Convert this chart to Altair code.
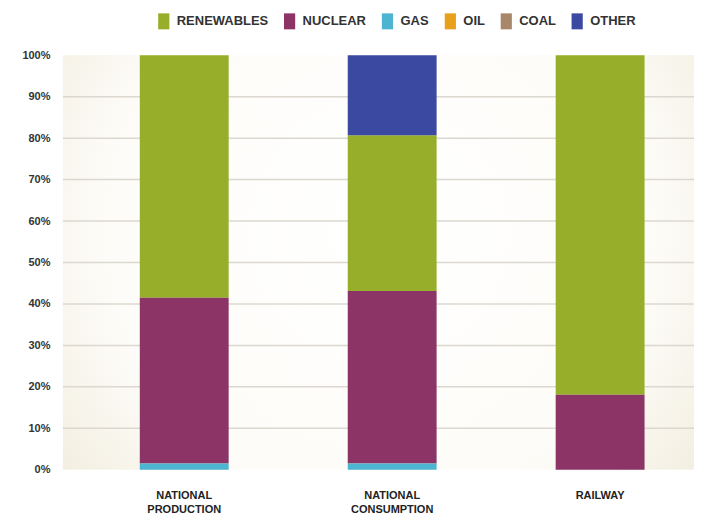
import altair as alt
import pandas as pd

categories = ["NATIONAL PRODUCTION", "NATIONAL CONSUMPTION", "RAILWAY"]
sources = ["RENEWABLES", "NUCLEAR", "GAS", "OIL", "COAL", "OTHER"]
colors = ["#97ae2b", "#8d3467", "#4db4d2", "#e9a11c", "#a8866a", "#3c49a0"]
stack_rank = [2, 1, 0, 3, 4, 5]  # bottom-to-top order

renewables = [58.5, 37.6, 81.9]
nuclear = [40.0, 41.6, 18.1]
gas = [1.5, 1.5, 0.0]
oil = [0.0, 0.0, 0.0]
coal = [0.0, 0.0, 0.0]
other = [0.0, 19.3, 0.0]

y_ticks = list(range(0, 101, 10))
grid_lines = list(range(10, 100, 10))

series = [renewables, nuclear, gas, oil, coal, other]
rows = []
for s, vals, rk in zip(sources, series, stack_rank):
    for c, v in zip(categories, vals):
        rows.append({"category": c, "source": s, "value": v, "rank": rk})
df = pd.DataFrame(rows)
grid_df = pd.DataFrame({"value": grid_lines})
one = pd.DataFrame({"a": [0]})

font = "Liberation Sans"
W, H = 632, 415

bg_grad = alt.RadialGradient(
    gradient="radial",
    x1=0.5, y1=0.45, r1=0.0,
    x2=0.5, y2=0.45, r2=0.72,
    stops=[
        alt.GradientStop(offset=0.0, color="#ffffff"),
        alt.GradientStop(offset=0.6, color="#fdfcf8"),
        alt.GradientStop(offset=1.0, color="#eee8d6"),
    ],
)

background = alt.Chart(one).mark_rect(fill=bg_grad).encode(
    x=alt.value(0), x2=alt.value(W), y=alt.value(0), y2=alt.value(H)
)

grid = alt.Chart(grid_df).mark_rule(color="#dcd8cf", strokeWidth=1.5).encode(
    y=alt.Y("value:Q")
)

bars = (
    alt.Chart(df)
    .mark_bar(size=89)
    .encode(
        x=alt.X(
            "category:N",
            sort=categories,
            scale=alt.Scale(paddingInner=0.5702, paddingOuter=0.3025, align=0.609),
            axis=alt.Axis(
                title=None,
                labelAngle=0,
                labelExpr="split(datum.label, ' ')",
                labelFont=font,
                labelFontWeight="bold",
                labelFontSize=11,
                labelLineHeight=14,
                labelColor="#222222",
                labelPadding=20,
                ticks=False,
                domain=False,
                grid=False,
            ),
        ),
        y=alt.Y(
            "value:Q",
            stack="zero",
            scale=alt.Scale(domain=[0, 100], nice=False),
            axis=alt.Axis(
                title=None,
                values=y_ticks,
                labelExpr="datum.value + '%'",
                labelFont=font,
                labelFontWeight="bold",
                labelFontSize=11,
                labelColor="#333333",
                labelPadding=13,
                ticks=False,
                domain=False,
                grid=False,
            ),
        ),
        color=alt.Color(
            "source:N",
            scale=alt.Scale(domain=sources, range=colors),
            legend=alt.Legend(
                title=None,
                orient="none",
                legendX=93,
                legendY=-42,
                direction="horizontal",
                symbolType="M-0.7,-1L0.7,-1L0.7,1L-0.7,1Z",
                symbolSize=256,
                symbolStrokeWidth=0,
                symbolOpacity=1,
                labelFont=font,
                labelFontWeight="bold",
                labelFontSize=13,
                labelColor="#333333",
                labelOffset=5,
                columnPadding=13,
            ),
        ),
        order=alt.Order("rank:Q", sort="ascending"),
    )
)

chart = (
    alt.layer(background, grid, bars)
    .properties(
        width=W,
        height=H,
        padding={"left": 13, "top": 5, "right": 0, "bottom": 0},
    )
    .configure_view(stroke=None)
)

chart.save("out.html", embed_options={"renderer": "svg", "actions": False})
